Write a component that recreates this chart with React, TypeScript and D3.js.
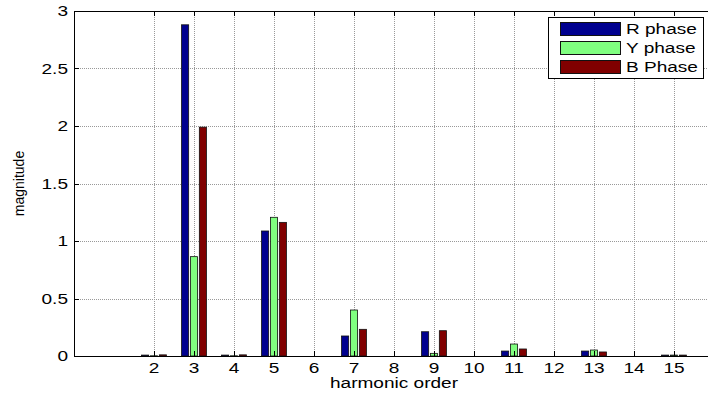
import { useRef, useEffect } from "react";
import * as d3 from "d3";

// harmonic orders shown on the x axis
const harmonics = [2, 3, 4, 5, 6, 7, 8, 9, 10, 11, 12, 13, 14, 15];
const seriesNames = ["R phase", "Y phase", "B Phase"];
const rPhase = [0.008, 2.88, 0.008, 1.087, 0, 0.174, 0, 0.211, 0, 0.043, 0, 0.043, 0, 0.008];
const yPhase = [0.002, 0.864, 0.002, 1.206, 0, 0.4, 0, 0.023, 0, 0.104, 0, 0.052, 0, 0.008];
const bPhase = [0.01, 1.99, 0.01, 1.162, 0, 0.232, 0, 0.22, 0, 0.061, 0, 0.035, 0, 0.008];
const yTicks = [0, 0.5, 1, 1.5, 2, 2.5, 3];
const colors = ["#00008f", "#80ff80", "#800000"];

const width = 708;
const height = 394;
const font = "'Liberation Sans', Arial, sans-serif";
const stretch = 1.36; // the picture's text is wider than it is tall

export default function App() {
  const ref = useRef<SVGSVGElement | null>(null);

  useEffect(() => {
    if (!ref.current) return;
    const svg = d3.select(ref.current);
    svg.selectAll("*").remove();

    const left = 74, top = 11, bottom = 356;
    const x = d3.scaleLinear().domain([0, 16]).range([left, 714]);
    const y = d3.scaleLinear().domain([0, 3]).range([bottom, top]);

    const label = (px: number, py: number, txt: string, anchor: string, sx = stretch, rot = 0) =>
      svg.append("text")
        .attr("transform", `translate(${px},${py}) scale(${sx},1)${rot ? ` rotate(${rot})` : ""}`)
        .attr("font-family", font).attr("font-size", 14)
        .attr("text-anchor", anchor).attr("fill", "#000")
        .text(txt);

    svg.append("rect").attr("width", width).attr("height", height).attr("fill", "#fff");

    // grid
    const grid = svg.append("g").attr("stroke", "#999").attr("stroke-dasharray", "1,1").attr("stroke-width", 1);
    grid.selectAll("line.v").data(harmonics).join("line")
      .attr("x1", (d) => Math.round(x(d)) + 0.5).attr("x2", (d) => Math.round(x(d)) + 0.5)
      .attr("y1", top).attr("y2", bottom);
    grid.selectAll("line.h").data(yTicks.slice(1, -1)).join("line")
      .attr("class", "h")
      .attr("x1", left).attr("x2", width)
      .attr("y1", (d) => Math.round(y(d)) + 0.5).attr("y2", (d) => Math.round(y(d)) + 0.5);

    // bars
    const series = [rPhase, yPhase, bPhase];
    const groupW = 3 / 4.5;
    const barW = (groupW / 3) * 0.8;
    series.forEach((vals, s) => {
      const off = (s - 1) * (groupW / 3);
      svg.append("g")
        .selectAll("rect")
        .data(harmonics.map((h, i) => ({ h, v: vals[i] })))
        .join("rect")
        .attr("x", (d) => x(d.h + off - barW / 2))
        .attr("width", x(barW) - x(0))
        .attr("y", (d) => y(d.v))
        .attr("height", (d) => y(0) - y(d.v))
        .attr("fill", colors[s])
        .attr("stroke", "#111")
        .attr("stroke-width", 0.8);
    });

    // axes box and ticks
    const axis = svg.append("g").attr("stroke", "#000").attr("stroke-width", 1).attr("fill", "none");
    axis.append("line").attr("x1", left + 0.5).attr("x2", left + 0.5).attr("y1", top).attr("y2", bottom);
    axis.append("line").attr("x1", left).attr("x2", width).attr("y1", bottom + 0.5).attr("y2", bottom + 0.5);
    axis.append("line").attr("x1", left).attr("x2", width).attr("y1", top + 0.5).attr("y2", top + 0.5);
    harmonics.forEach((h) => {
      const px = Math.round(x(h)) + 0.5;
      axis.append("line").attr("x1", px).attr("x2", px).attr("y1", bottom).attr("y2", bottom - 5);
      axis.append("line").attr("x1", px).attr("x2", px).attr("y1", top).attr("y2", top + 5);
    });
    yTicks.forEach((t) => {
      const py = Math.round(y(t)) + 0.5;
      axis.append("line").attr("x1", left).attr("x2", left + 5).attr("y1", py).attr("y2", py);
    });

    // tick labels
    harmonics.forEach((h) => label(x(h), 373, String(h), "middle"));
    yTicks.forEach((t) => label(68, y(t) + 5, String(t), "end"));

    label(x(8), 388, "harmonic order", "middle");
    label(24, y(1.5), "magnitude", "middle", 1, -90);

    // legend
    const lg = svg.append("g");
    lg.append("rect").attr("x", 548.5).attr("y", 17.5).attr("width", 155).attr("height", 61)
      .attr("fill", "#fff").attr("stroke", "#000");
    seriesNames.forEach((name, i) => {
      const cy = 29 + i * 19;
      lg.append("rect").attr("x", 560.5).attr("y", cy - 6.5).attr("width", 60).attr("height", 13)
        .attr("fill", colors[i]).attr("stroke", "#111");
      lg.append("text")
        .attr("transform", `translate(626,${cy + 5}) scale(${stretch},1)`)
        .attr("font-family", font).attr("font-size", 14)
        .text(name);
    });
  }, []);

  return (
    <div style={{ position: "fixed", left: 0, top: 0 }}>
      <svg ref={ref} width={width} height={height} style={{ display: "block" }} />
    </div>
  );
}
